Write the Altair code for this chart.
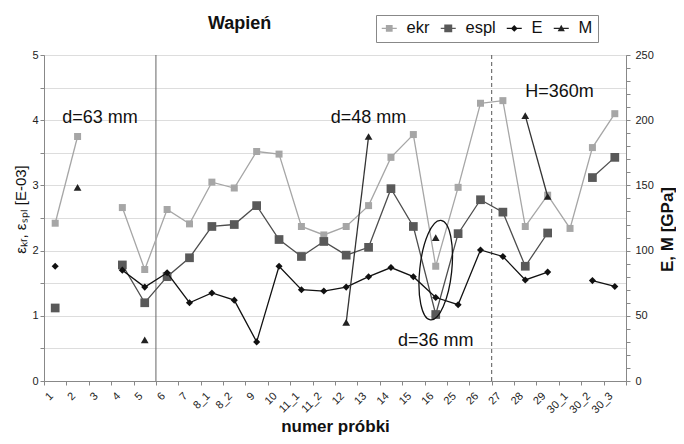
import altair as alt
import pandas as pd

# ---------------- data ----------------
cats = ["1", "2", "3", "4", "5", "6", "7", "8_1", "8_2", "9", "10", "11_1", "11_2",
        "12", "13", "14", "15", "16", "25", "26", "27", "28", "29", "30_1", "30_2", "30_3"]

ekr = [2.42, 3.75, None, 2.66, 1.71, 2.63, 2.41, 3.05, 2.96, 3.52, 3.48, 2.37, 2.24,
       2.37, 2.69, 3.43, 3.78, 1.76, 2.97, 4.26, 4.30, 2.37, 2.85, 2.34, 3.58, 4.10]
espl = [1.12, None, None, 1.78, 1.20, 1.60, 1.89, 2.37, 2.40, 2.69, 2.17, 1.91, 2.14,
        1.93, 2.05, 2.95, 2.37, 1.02, 2.26, 2.78, 2.59, 1.76, 2.27, None, 3.12, 3.43]
E_gpa = [88, None, None, 85, 72, 83, 60, 67.5, 62, 30, 88, 70, 69,
         72, 80, 87, 80, 64, 58.5, 100.5, 95.5, 77.5, 83.5, None, 77, 72.5]
M_gpa = [None, 148.5, None, None, 31.5, None, None, None, None, None, None, None, None,
         45, 187.5, None, None, 110, None, None, None, 203.5, 141.5, None, None, None]

series_names = ["ekr", "espl", "E", "M"]
series_colors = ["#a6a6a6", "#595959", "#111111", "#222222"]

ann_center_text = ["d=63 mm", "d=48 mm", "d=36 mm"]
ann_center_cat = ["3", "13", "16"]
ann_center_val = [3.96, 3.96, 0.54]
ann_left_text = ["H=360m"]
ann_left_cat = ["28"]
ann_left_val = [4.35]


def to_long(name, vals):
    rows, seg, prev = [], 0, None
    for i, (c, v) in enumerate(zip(cats, vals)):
        if v is None:
            prev = None
            continue
        if prev is None:
            seg += 1
        rows.append({"cat": c, "idx": i, "v": v, "series": name, "seg": f"{name}{seg}"})
        prev = v
    return pd.DataFrame(rows)


d_ekr = to_long("ekr", ekr)
d_espl = to_long("espl", espl)
d_E = to_long("E", E_gpa)
d_M = to_long("M", M_gpa)

FONT = "Liberation Sans"
W, H = 582, 326

x_enc = alt.X(
    "cat:N", sort=None,
    scale=alt.Scale(type="band", domain=cats, paddingInner=0, paddingOuter=0),
    axis=alt.Axis(title="numer próbki", tickBand="extent", labelAngle=315,
                  labelAlign="right", labelBaseline="middle", labelFontSize=11,
                  labelPadding=9, labelOffset=-4, tickSize=4, domainColor="#888888",
                  tickColor="#888888", labelColor="#222222", titleFontSize=17,
                  titleFontWeight="bold", titleY=50, titleBaseline="alphabetic",
                  titleColor="#111111", labelFont=FONT, titleFont=FONT),
)

y_left = alt.Y(
    "v:Q", scale=alt.Scale(domain=[0, 5], nice=False),
    axis=alt.Axis(title="εₖᵣ, εₛₚₗ [E-03]", values=[i * 0.5 for i in range(11)],
                  format=".0f", labelExpr="datum.value % 1 === 0 ? datum.label : ''",
                  tickSize=4, labelPadding=2, labelFontSize=11, labelColor="#222222",
                  domainColor="#888888", tickColor="#888888", titleFontSize=15,
                  titleFontWeight="normal", titleAngle=270, titleX=-24, titleY=154,
                  titleBaseline="middle", titleAlign="center", titleColor="#111111",
                  labelFont=FONT, titleFont=FONT),
)

y_right = alt.Y(
    "v:Q", scale=alt.Scale(domain=[0, 250], nice=False),
    axis=alt.Axis(orient="right", title="E, M [GPa]", values=list(range(0, 251, 10)),
                  format="d", labelExpr="datum.value % 50 === 0 ? datum.label : ''",
                  tickSize=4, labelPadding=5, labelFontSize=11, labelColor="#222222",
                  domainColor="#888888", tickColor="#888888", titleFontSize=17,
                  titleFontWeight="bold", titleAngle=270, titleX=41, titleY=174,
                  titleBaseline="middle", titleAlign="center", titleColor="#111111",
                  labelFont=FONT, titleFont=FONT),
)


def line_layer(df, color, y):
    return alt.Chart(df).mark_line(color=color, strokeWidth=1.3).encode(
        x=x_enc, y=y, detail="seg:N", order="idx:Q")


def pts_layer(df, shape, size, color, y):
    return alt.Chart(df).mark_point(shape=shape, size=size, filled=True, color=color,
                                    opacity=1).encode(x=x_enc, y=y)


rules_solid = alt.Chart(pd.DataFrame({"cat": ["6"]})).mark_rule(
    color="#666666", strokeWidth=1).encode(x=alt.X("cat:N", bandPosition=0))
rules_dash = alt.Chart(pd.DataFrame({"cat": ["27"]})).mark_rule(
    color="#555555", strokeWidth=1, strokeDash=[4, 3]).encode(x=alt.X("cat:N", bandPosition=0))

ann_c = alt.Chart(pd.DataFrame({"cat": ann_center_cat, "v": ann_center_val,
                                "t": ann_center_text})).mark_text(
    fontSize=18, font=FONT, color="#111111", align="center", baseline="alphabetic"
).encode(x=x_enc, y=y_left, text="t:N")
ann_l = alt.Chart(pd.DataFrame({"cat": ann_left_cat, "v": ann_left_val,
                                "t": ann_left_text})).mark_text(
    fontSize=18, font=FONT, color="#111111", align="left", baseline="alphabetic"
).encode(x=x_enc, y=y_left, text="t:N")

ellipse = alt.Chart(pd.DataFrame({"cat": ["16"], "v": [1.70]})).mark_point(
    shape="M0,-1A0.32,1,0,1,1,0,1A0.32,1,0,1,1,0,-1Z", size=10000, filled=False,
    stroke="#111111", strokeWidth=1.3, angle=6, opacity=1
).encode(x=x_enc, y=y_left)

legend_paths = [
    "M-1,-0.07H1V0.07H-1Z M-0.45,-0.45H0.45V0.45H-0.45Z",
    "M-1,-0.07H1V0.07H-1Z M-0.53,-0.53H0.53V0.53H-0.53Z",
    "M-1,-0.07H1V0.07H-1Z M0,-0.45L0.45,0L0,0.45L-0.45,0Z",
    "M-1,-0.07H1V0.07H-1Z M0,-0.48L0.48,0.38L-0.48,0.38Z",
]
leg = alt.Legend(orient="none", legendX=332, legendY=-40, direction="horizontal",
                 symbolSize=225, labelFontSize=16.5, labelOffset=9, columnPadding=10,
                 padding=5, strokeColor="#888888", fillColor="white",
                 symbolStrokeWidth=0, labelColor="#111111", labelFont=FONT)
legend_layer = alt.Chart(d_ekr).transform_filter("false").mark_point(
    filled=True, opacity=1).encode(
    color=alt.Color("series:N", title=None, legend=leg,
                    scale=alt.Scale(domain=series_names, range=series_colors)),
    shape=alt.Shape("series:N", title=None, legend=leg,
                    scale=alt.Scale(domain=series_names, range=legend_paths)),
)

left = alt.layer(
    rules_solid, rules_dash,
    line_layer(d_ekr, "#a6a6a6", y_left), pts_layer(d_ekr, "square", 49, "#a6a6a6", y_left),
    line_layer(d_espl, "#4d4d4d", y_left), pts_layer(d_espl, "square", 76, "#595959", y_left),
    ann_c, ann_l, ellipse, legend_layer,
)
right = alt.layer(
    line_layer(d_E, "#111111", y_right), pts_layer(d_E, "diamond", 50, "#111111", y_right),
    line_layer(d_M, "#333333", y_right), pts_layer(d_M, "triangle-up", 60, "#222222", y_right),
)

chart = alt.layer(left, right).resolve_scale(y="independent").properties(
    width=W, height=H,
    autosize=alt.AutoSizeParams(type="none"),
    padding={"left": 36, "top": 47, "right": 50, "bottom": 55},
    title=alt.TitleParams(text="Wapień", anchor="start", frame="group", dx=164, dy=32,
                          offset=0, fontSize=18, fontWeight="bold", font=FONT,
                          color="#111111", baseline="alphabetic"),
).configure(font=FONT).configure_view(stroke="#999999", strokeWidth=1)

chart.save("out.html", embed_options={"renderer": "svg", "actions": False})
